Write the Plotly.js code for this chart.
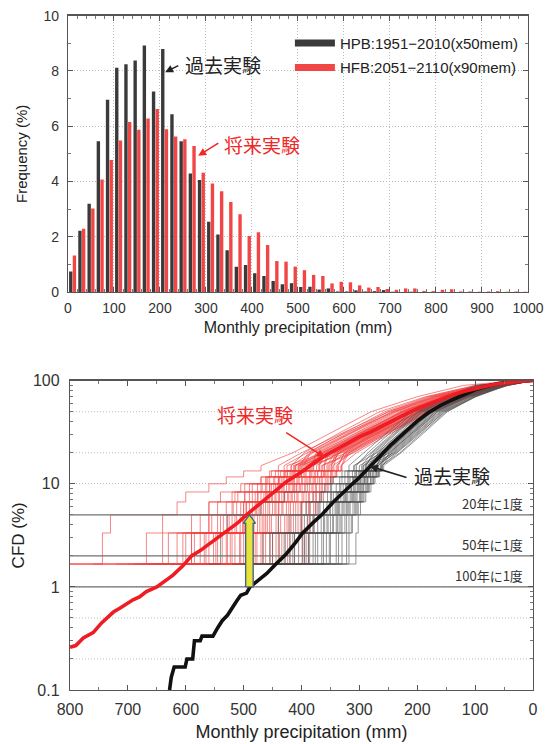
<!DOCTYPE html>
<html><head><meta charset="utf-8">
<script src="https://cdn.plot.ly/plotly-3.0.1.min.js"></script>
<style>html,body{margin:0;padding:0;background:#fff}#chart{width:551px;height:744px}</style>
</head><body><div id="chart"></div>
<script>
// ---------- Top panel: histogram (20 mm bins) ----------
const binCenters = [10,30,50,70,90,110,130,150,170,190,210,230,250,270,290,310,330,350,370,390,
  410,430,450,470,490,510,530,550,570,590,610,630,650,670,690,710,730,750,770,790,
  810,830,850,870,890,910,930,950,970,990];
const freqPast = [0.74,2.22,3.19,5.46,6.96,8.12,8.24,8.38,8.92,7.26,8.79,6.43,5.46,4.29,4.05,2.54,2.08,1.51,0.91,0.98,
  0.68,0.58,0.40,0.28,0.32,0.18,0.19,0.09,0.13,0.02,0.02,0.06,0.02,0.03,0.07,0.01,0,0.01,0,0,
  0,0,0,0,0,0,0,0,0,0];
const freqFuture = [1.32,2.29,3.02,4.07,4.78,5.48,6.15,5.87,6.28,6.62,5.89,5.63,5.53,5.28,4.32,3.93,3.65,3.26,2.81,2.03,
  2.16,1.70,1.12,1.10,0.92,0.79,0.62,0.58,0.31,0.37,0.35,0.24,0.16,0.18,0.11,0.08,0.13,0.13,0.04,0.03,
  0.08,0.10,0.02,0.02,0.01,0.02,0.03,0.01,0.02,0.01];
const legendPast = 'HPB:1951\u22122010(x50mem)';
const legendFuture = 'HFB:2051\u22122110(x90mem)';

// ---------- Bottom panel: CFD ----------
const futMeanX = [800,790,777,760,745,737,725,714,700,691,680,668,650,635,622,605,590,575,560,545,530,512,495,478,460,437,426,400,380,363,340,320,300,282,260,240,220,200,180,160,140,120,100,80,60,40,20,0];
const futMeanY = [0.26,0.27,0.32,0.36,0.45,0.5,0.57,0.62,0.7,0.75,0.8,0.9,1.0,1.15,1.3,1.6,2.0,2.25,2.6,3.0,3.4,4.1,5.0,6.0,7.3,9.3,10.5,13,15.5,18.3,21.5,25,28.5,31.5,36.5,42,47.5,53.5,59.5,66,72.5,78.5,84.3,89,93.3,96.6,98.8,100];
const pastMeanX = [628,625,620,601,598,588,585,575,572,553,545,537,528,520,512,505,495,489,475,460,445,426,410,398,380,365,345,328,312,300,283,262,245,226,200,180,160,140,120,100,80,60,40,20,5];
const pastMeanY = [0.1,0.133,0.167,0.167,0.2,0.2,0.3,0.3,0.333,0.333,0.4,0.47,0.53,0.63,0.73,0.83,0.87,1.0,1.15,1.35,1.65,2.1,2.7,3.33,4.2,5.0,6.67,8.3,10,11.5,14.5,19.5,24,30,40.5,49.2,57.5,65,73.5,81.4,88.5,93.8,97,99.2,100];

// member curves: nine largest values (at stepLevels), then mm at upperLevels
const stepLevels = [1.667,3.333,5,6.667,8.333,10,11.667,13.333,15];
const upperLevels = [20,30,50,70,90,100];
const futMembers = [
  [910,744,730,560,540,505,470,455,440, 400,335,250,170,85,15],
  [820,668,640,615,600,560,530,500,470, 415,355,280,200,120,30],
  [760,640,560,530,515,498,470,452,430, 390,330,240,165,80,10],
  [700,615,590,560,520,490,462,440,425, 360,300,215,150,70,5],
  [680,600,555,520,498,470,455,430,410, 380,320,245,175,95,20],
  [850,590,540,500,475,455,440,425,412, 345,285,205,140,60,4],
  [665,590,545,518,498,476,460,445,418, 395,340,265,185,100,18],
  [655,575,535,505,485,468,446,430,414, 355,290,212,146,66,6],
  [645,568,520,495,476,455,440,424,410, 370,310,230,160,78,9],
  [640,560,512,496,465,452,435,420,406, 330,270,190,125,50,2],
  [625,552,515,485,460,445,430,412,402, 365,305,225,155,72,8],
  [615,545,506,480,462,440,425,414,400, 350,292,215,148,64,5],
  [605,537,502,475,455,442,426,410,396, 385,325,250,178,92,16],
  [600,530,495,470,452,435,420,406,392, 340,280,200,135,58,3],
  [590,523,490,466,446,430,414,402,389, 362,302,222,152,70,7],
  [575,515,485,462,444,426,412,400,386, 320,262,185,120,48,2],
  [570,507,476,455,440,422,408,394,382, 375,318,238,168,86,12],
  [560,500,472,450,434,416,404,392,379, 348,288,210,144,63,5],
  [550,492,465,444,429,414,400,386,374, 335,275,195,130,55,3],
  [540,485,459,439,422,409,394,382,369, 358,298,220,150,68,6],
  [530,477,452,434,416,404,389,376,364, 310,255,178,112,44,1],
  [520,470,444,426,412,399,384,372,360, 352,300,228,158,76,8],
  [510,462,436,419,406,394,380,366,356, 342,282,203,138,60,4],
  [500,454,429,414,399,386,376,362,352, 325,266,188,124,52,2],
  [485,444,422,406,392,380,369,359,349, 340,288,216,149,67,6],
  [475,434,414,399,386,374,364,354,344, 338,278,198,133,57,3],
  [460,424,406,392,380,369,359,350,340, 318,258,180,115,46,1],
  [445,412,399,386,374,364,354,346,336, 326,280,208,142,62,5],
  [432,399,389,379,369,359,350,342,332, 305,250,172,108,42,1],
  [418,388,380,372,362,354,346,339,330, 318,268,192,127,54,2],
  [720,630,575,545,510,485,458,436,418, 382,322,242,170,88,14],
  [690,605,560,512,490,462,448,428,405, 366,306,226,156,74,7],
  [670,585,528,500,480,460,438,418,398, 352,295,214,147,65,5],
  [635,565,525,490,470,448,432,416,403, 388,332,256,182,98,22],
  [620,548,500,478,458,438,418,404,394, 344,284,206,141,61,4],
  [595,528,498,472,450,432,416,400,384, 372,312,235,163,82,10],
  [580,520,482,458,438,420,406,396,380, 332,272,194,129,54,3],
  [565,505,468,446,430,412,398,384,370, 362,303,224,154,73,7],
  [545,488,462,440,424,408,392,378,366, 315,260,182,117,47,2],
  [535,480,455,432,418,402,386,372,361, 356,296,218,150,68,6],
  [515,466,440,422,408,394,378,365,354, 334,274,196,131,55,3],
  [495,450,425,410,396,382,372,360,348, 336,276,198,132,56,3],
  [480,438,418,402,388,376,366,356,346, 312,256,176,110,44,1],
  [455,420,402,388,376,366,356,348,338, 325,272,200,138,60,4],
  [425,395,386,376,366,356,348,340,331, 322,264,186,122,50,2]
];
const pastMembers = [
  [560,540,529,470,430,390,350,330,318, 292,255,210,150,95,20],
  [520,467,440,400,380,360,345,325,310, 270,232,185,132,75,8],
  [505,450,410,385,365,348,330,318,305, 285,250,205,152,98,18],
  [490,440,400,375,355,340,325,312,300, 262,226,180,128,72,6],
  [480,430,390,370,350,332,320,308,296, 278,242,198,145,88,14],
  [470,420,385,362,345,328,316,305,293, 255,218,172,120,65,4],
  [462,412,378,356,340,324,312,302,290, 272,238,192,140,84,12],
  [455,405,372,350,336,320,309,298,288, 248,212,165,112,58,3],
  [448,398,366,346,332,316,306,296,285, 266,230,185,134,78,9],
  [440,392,362,342,328,313,303,293,283, 240,204,158,105,52,2],
  [432,386,356,338,324,310,300,290,280, 260,224,178,126,70,6],
  [425,380,350,334,320,306,297,288,278, 252,216,170,118,63,4],
  [418,372,345,330,316,303,294,285,275, 268,234,190,138,82,11],
  [410,365,340,325,312,300,291,282,272, 236,200,152,100,48,1],
  [400,357,335,320,308,296,288,280,270, 258,222,176,124,68,5],
  [390,350,330,316,304,293,285,276,267, 246,210,162,110,56,3],
  [378,340,325,311,300,290,281,273,264, 254,220,174,122,66,5],
  [365,330,318,306,296,286,278,270,262, 230,195,150,98,45,1],
  [350,318,312,302,292,283,275,267,260, 244,208,165,114,60,3],
  [338,306,302,298,289,280,273,265,258, 228,192,148,100,47,1],
  [500,455,420,392,368,350,334,320,308, 280,245,200,148,90,15],
  [475,428,395,368,348,334,318,306,294, 264,228,182,130,74,7],
  [458,415,380,352,338,322,310,300,289, 275,240,195,142,86,13],
  [445,395,360,340,326,314,302,292,282, 250,214,168,116,62,4],
  [436,388,354,336,322,308,298,288,279, 262,228,184,132,76,8],
  [420,376,346,328,314,302,292,284,274, 242,206,160,108,54,2],
  [405,362,338,322,310,298,290,281,271, 256,220,176,124,68,5],
  [395,352,332,318,306,294,286,277,268, 238,202,156,104,50,2],
  [372,336,322,308,298,288,280,271,263, 248,212,168,116,60,3],
  [355,322,314,304,294,284,276,268,261, 234,198,154,102,48,1]
];
const returnLevels = [5, 2, 1];
const returnLabels = ['20年に1度', '50年に1度', '100年に1度'];
const dottedGrid = [0.2, 0.5, 20, 50];
// highlighted change at the 100-year level (mm, from %, to %)
const arrowX = 490, arrowFrom = 1, arrowTo = 5;

function membersToPath(members){
  const xs = [], ys = [];
  members.forEach(m => {
    for (let k = 0; k < stepLevels.length; k++) {
      xs.push(m[k]); ys.push(stepLevels[k]);
      if (k < stepLevels.length - 1) { xs.push(m[k+1]); ys.push(stepLevels[k]); }
    }
    for (let j = 0; j < upperLevels.length; j++) {
      xs.push(m[stepLevels.length + j]); ys.push(upperLevels[j]);
    }
    xs.push(null); ys.push(null);
  });
  return {x: xs, y: ys};
}
function hLines(levels){
  const xs = [], ys = [];
  levels.forEach(v => { xs.push(800, 0, null); ys.push(v, v, null); });
  return {x: xs, y: ys};
}

const RED = '#f24646', BLACK = '#3a3a3a';
const fut = membersToPath(futMembers), past = membersToPath(pastMembers);
const rl = hLines(returnLevels), dg = hLines(dottedGrid);

const headBase = arrowTo * 0.83, sw = 6.5, hw = 10.5;
const arrowPolyX = [arrowX+sw, arrowX+sw, arrowX+hw, arrowX, arrowX-hw, arrowX-sw, arrowX-sw, arrowX+sw];
const arrowPolyY = [arrowFrom, headBase, headBase, arrowTo, headBase, headBase, arrowFrom, arrowFrom];

const traces = [
  {type:'bar', x: binCenters, y: freqPast, marker:{color:BLACK}, showlegend:false, xaxis:'x', yaxis:'y', hoverinfo:'skip'},
  {type:'bar', x: binCenters, y: freqFuture, marker:{color:RED}, showlegend:false, xaxis:'x', yaxis:'y', hoverinfo:'skip'},
  {type:'scatter', mode:'lines', x:[null], y:[null], name: legendPast, line:{color:BLACK, width:7}, legendgroup:'a', xaxis:'x', yaxis:'y'},
  {type:'scatter', mode:'lines', x:[null], y:[null], name: legendFuture, line:{color:RED, width:7}, legendgroup:'b', xaxis:'x', yaxis:'y'},
  {type:'scatter', mode:'lines', x: dg.x, y: dg.y, line:{color:'#bdbdbd', width:1, dash:'1px,2px'}, showlegend:false, xaxis:'x2', yaxis:'y2', hoverinfo:'skip'},
  {type:'scatter', mode:'lines', x: fut.x, y: fut.y, line:{color:'rgba(240,64,64,0.9)', width:0.7}, showlegend:false, xaxis:'x2', yaxis:'y2', hoverinfo:'skip'},
  {type:'scatter', mode:'lines', x: past.x, y: past.y, line:{color:'rgba(80,80,80,0.85)', width:0.7}, showlegend:false, xaxis:'x2', yaxis:'y2', hoverinfo:'skip'},
  {type:'scatter', mode:'lines', x: rl.x, y: rl.y, line:{color:'#707070', width:1.4}, showlegend:false, xaxis:'x2', yaxis:'y2', hoverinfo:'skip'},
  {type:'scatter', mode:'lines', x: pastMeanX, y: pastMeanY, line:{color:'#111', width:3.6}, showlegend:false, xaxis:'x2', yaxis:'y2'},
  {type:'scatter', mode:'lines', x: futMeanX, y: futMeanY, line:{color:'#f01c24', width:3.6}, showlegend:false, xaxis:'x2', yaxis:'y2'},
  {type:'scatter', mode:'lines', x: arrowPolyX, y: arrowPolyY, fill:'toself', fillcolor:'#e6e43c', line:{color:'#4d6278', width:1.4}, showlegend:false, xaxis:'x2', yaxis:'y2', hoverinfo:'skip'}
];

const LAT = 'Liberation Sans, Arial, Noto Sans CJK JP, sans-serif';
const CJK = 'Noto Sans CJK JP, sans-serif';
const axBase = {showline:true, linecolor:'#555', linewidth:1.2, mirror:'ticks', ticks:'inside', ticklen:5, tickcolor:'#555', zeroline:false};
const lg = v => Math.log10(v);

const annotations = [
  {xref:'x', yref:'y', x:250, y:8.22, text:'過去実験', showarrow:false, xanchor:'left', font:{family:CJK, size:19, color:'#222'}},
  {xref:'x', yref:'y', axref:'x', ayref:'y', x:211, y:7.95, ax:243, ay:8.22, text:'', showarrow:true, arrowhead:2, arrowsize:1, arrowwidth:1.6, arrowcolor:'#222'},
  {xref:'x', yref:'y', x:335, y:5.33, text:'将来実験', showarrow:false, xanchor:'left', font:{family:CJK, size:19, color:'#f02828'}},
  {xref:'x', yref:'y', axref:'x', ayref:'y', x:283, y:4.93, ax:330, ay:5.42, text:'', showarrow:true, arrowhead:2, arrowsize:1, arrowwidth:1.6, arrowcolor:'#f02828'},
  {xref:'x2', yref:'y2', x:480, y:lg(47.5), text:'将来実験', showarrow:false, xanchor:'center', font:{family:CJK, size:19, color:'#f02828'}},
  {xref:'x2', yref:'y2', axref:'x2', ayref:'y2', x:360, y:lg(18.1), ax:429, ay:lg(32), text:'', showarrow:true, arrowhead:2, arrowsize:1, arrowwidth:1.6, arrowcolor:'#f02828'},
  {xref:'x2', yref:'y2', x:209, y:1.076, text:'過去実験', showarrow:false, xanchor:'left', font:{family:CJK, size:19, color:'#222'}},
  {xref:'x2', yref:'y2', axref:'x2', ayref:'y2', x:282, y:1.17, ax:216, ay:1.056, text:'', showarrow:true, arrowhead:2, arrowsize:1, arrowwidth:1.6, arrowcolor:'#222'}
];
returnLevels.forEach((v, i) => annotations.push({xref:'x2', yref:'y2', x:14, y:lg(v), text:returnLabels[i], showarrow:false, xanchor:'right', yanchor:'bottom', font:{family:CJK, size:13, color:'#333'}}));

const layout = {
  width:551, height:744, paper_bgcolor:'#fff', plot_bgcolor:'#fff',
  margin:{l:60, r:10, t:10, b:2},
  font:{family:LAT, color:'#222'},
  barmode:'group', bargap:0.2, bargroupgap:0.08,
  showlegend:true,
  legend:{x:0.478, y:0.977, xanchor:'left', yanchor:'top', bgcolor:'rgba(0,0,0,0)', font:{family:LAT, size:15, color:'#222'}, tracegroupgap:2, itemwidth:40},
  xaxis: Object.assign({}, axBase, {domain:[0.01663,0.97297], anchor:'y', range:[0,1000], tick0:0, dtick:100,
    showgrid:true, gridcolor:'#bdbdbd', griddash:'1px,2px', minor:{dtick:20, ticks:'inside', ticklen:3, tickcolor:'#777'},
    ticklabelstandoff:3,
    tickfont:{size:14, color:'#333'}, title:{text:'Monthly precipitation (mm)', font:{size:16, color:'#222'}, standoff:6}}),
  yaxis: Object.assign({}, axBase, {domain:[0.61475,0.99222], anchor:'x', range:[0,10], tick0:0, dtick:2,
    showgrid:true, gridcolor:'#bdbdbd', griddash:'1px,2px', minor:{dtick:1, ticks:'inside', ticklen:3, tickcolor:'#777'},
    ticklabelstandoff:5,
    tickfont:{size:14, color:'#333'}, title:{text:'Frequency (%)', font:{size:15, color:'#222'}, standoff:12}}),
  xaxis2: Object.assign({}, axBase, {domain:[0.02079,0.98337], anchor:'y2', range:[800,0], tick0:0, dtick:100,
    showgrid:false, minor:{dtick:50, ticks:'inside', ticklen:3, tickcolor:'#777'},
    ticklabelstandoff:5,
    tickfont:{size:16, color:'#333'}, title:{text:'Monthly precipitation (mm)', font:{size:18, color:'#222'}, standoff:8}}),
  yaxis2: Object.assign({}, axBase, {domain:[0.07104,0.49358], anchor:'x2', type:'log', range:[-1,2],
    tickmode:'array', tickvals:[0.1,1,10,100], ticktext:['0.1','1','10','100'],
    showgrid:true, gridcolor:'#bdbdbd', griddash:'1px,2px',
    minor:{tickmode:'array', tickvals:[0.2,0.3,0.4,0.5,0.6,0.7,0.8,0.9,2,3,4,5,6,7,8,9,20,30,40,50,60,70,80,90], ticks:'inside', ticklen:3, tickcolor:'#777', showgrid:false},
    ticklabelstandoff:6,
    tickfont:{size:16, color:'#333'}, title:{text:'CFD (%)', font:{size:17, color:'#222'}, standoff:4}}),
  annotations: annotations
};

Plotly.newPlot('chart', traces, layout, {displayModeBar:false, staticPlot:true});
</script></body></html>
